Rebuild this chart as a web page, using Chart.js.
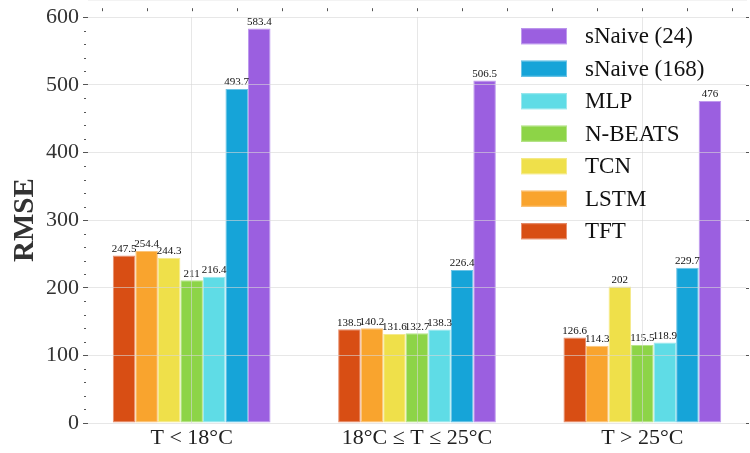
<!DOCTYPE html>
<html>
<head>
<meta charset="utf-8">
<script src="https://cdn.jsdelivr.net/npm/chart.js@4.4.0/dist/chart.umd.min.js"></script>
<style>
  html, body { margin: 0; padding: 0; background: #fff; }
  #wrap { width: 750px; height: 453px; }
</style>
</head>
<body>
<div id="wrap"><canvas id="chart"></canvas></div>
<script>
const categories = ["T < 18°C", "18°C ≤ T ≤ 25°C", "T > 25°C"];
const models = ["TFT", "LSTM", "TCN", "N-BEATS", "MLP", "sNaive (168)", "sNaive (24)"];
const tftValues = [247.5, 138.5, 126.6];
const lstmValues = [254.4, 140.2, 114.3];
const tcnValues = [244.3, 131.6, 202];
const nbeatsValues = [211, 132.7, 115.5];
const mlpValues = [216.4, 138.3, 118.9];
const snaive168Values = [493.7, 226.4, 229.7];
const snaive24Values = [583.4, 506.5, 476];
const yTicks = [0, 100, 200, 300, 400, 500, 600];

const seriesValues = [tftValues, lstmValues, tcnValues, nbeatsValues, mlpValues, snaive168Values, snaive24Values];
const colors = ["#d84e14", "#f9a42e", "#efe04a", "#8dd447", "#5fdce6", "#16a4d8", "#9b5fe0"];
const edges = ["#e89070", "#fbc47a", "#f5ea8c", "#b6e48a", "#9ce8ee", "#6cc4e6", "#bf9aee"];

const SERIF = "'Liberation Serif', 'DejaVu Serif', serif";

// value labels above every bar, plus the minor y ticks and right-side ticks
const extrasPlugin = {
  id: "extras",
  afterDatasetsDraw(chart) {
    const ctx = chart.ctx;
    ctx.save();
    ctx.font = "11px " + SERIF;
    ctx.fillStyle = "#111";
    ctx.textAlign = "center";
    ctx.textBaseline = "bottom";
    chart.data.datasets.forEach((ds, di) => {
      chart.getDatasetMeta(di).data.forEach((bar, i) => {
        ctx.fillText(String(ds.data[i].y), bar.x, bar.y - 1);
      });
    });
    ctx.restore();
  },
  afterDraw(chart) {
    const ctx = chart.ctx;
    const y = chart.scales.y;
    const x = chart.scales.x;
    const area = chart.chartArea;
    ctx.save();
    ctx.strokeStyle = "#555";
    ctx.lineWidth = 1;
    for (let v = 20; v < 600; v += 20) {
      if (v % 100 === 0) continue;
      const py = Math.round(y.getPixelForValue(v)) + 0.5;
      ctx.beginPath();
      ctx.moveTo(area.left - 4, py);
      ctx.lineTo(area.left - 2, py);
      ctx.stroke();
    }
    yTicks.forEach((v) => {
      const py = Math.round(y.getPixelForValue(v)) + 0.5;
      ctx.beginPath();
      ctx.moveTo(area.right, py);
      ctx.lineTo(area.right + 3, py);
      ctx.stroke();
    });
    // minor ticks on top edge
    for (let v = -0.4; v <= 2.41; v += 0.2) {
      const px = Math.round(x.getPixelForValue(v)) + 0.5;
      ctx.beginPath();
      ctx.moveTo(px, area.top - 9);
      ctx.lineTo(px, area.top - 6);
      ctx.stroke();
    }

    // legend, drawn inside the plot, reversed order
    ctx.font = "23px " + SERIF;
    ctx.textAlign = "left";
    ctx.textBaseline = "middle";
    const order = chart.data.datasets.map((d, i) => i).reverse();
    order.forEach((di, row) => {
      const ds = chart.data.datasets[di];
      const cy = area.top + 19 + row * 32.5;
      ctx.fillStyle = ds.backgroundColor;
      ctx.fillRect(521, cy - 8, 46, 16);
      ctx.strokeStyle = ds.borderColor;
      ctx.strokeRect(521.5, cy - 7.5, 45, 15);
      ctx.fillStyle = "#111";
      ctx.fillText(ds.label, 585, cy + 1);
    });
    ctx.restore();
  }
};

const datasets = models.map((name, k) => ({
  label: name,
  data: seriesValues[k].map((v, i) => ({ x: i, y: v })),
  backgroundColor: colors[k],
  borderColor: edges[k],
  borderWidth: 1,
  borderSkipped: false,
  categoryPercentage: 0.7,
  barPercentage: 1.0
}));

new Chart(document.getElementById("chart"), {
  type: "bar",
  data: { datasets },
  plugins: [extrasPlugin],
  options: {
    responsive: true,
    maintainAspectRatio: false,
    animation: false,
    layout: { padding: { top: 16, right: 4, left: 0, bottom: 0 } },
    plugins: {
      legend: { display: false },
      tooltip: { enabled: false }
    },
    scales: {
      x: {
        type: "linear",
        offset: false,
        min: -0.46,
        max: 2.46,
        afterBuildTicks: (scale) => {
          scale.ticks = categories.map((c, i) => ({ value: i }));
        },
        afterFit: (scale) => { scale.height = 30; },
        ticks: {
          callback: (value) => categories[value],
          font: { family: SERIF, size: 22 },
          color: "#222",
          padding: 2,
          maxRotation: 0,
          autoSkip: false
        },
        grid: {
          z: 1,
          offset: false,
          color: "rgba(215, 215, 215, 0.6)",
          drawTicks: false
        },
        border: { display: true, color: "rgba(225, 225, 225, 0.8)" }
      },
      y: {
        min: 0,
        max: 600,
        afterBuildTicks: (scale) => {
          scale.ticks = yTicks.map((v) => ({ value: v }));
        },
        afterFit: (scale) => { scale.width = 88; },
        title: {
          display: true,
          text: "RMSE",
          font: { family: SERIF, size: 29, weight: "bold" },
          color: "#333",
          padding: { top: 8, bottom: 4 }
        },
        ticks: {
          font: { family: SERIF, size: 22 },
          color: "#333",
          padding: 4
        },
        grid: {
          z: 1,
          color: "rgba(215, 215, 215, 0.6)",
          tickColor: "#555",
          tickLength: 5
        },
        border: { display: false }
      }
    }
  }
});
</script>
</body>
</html>
